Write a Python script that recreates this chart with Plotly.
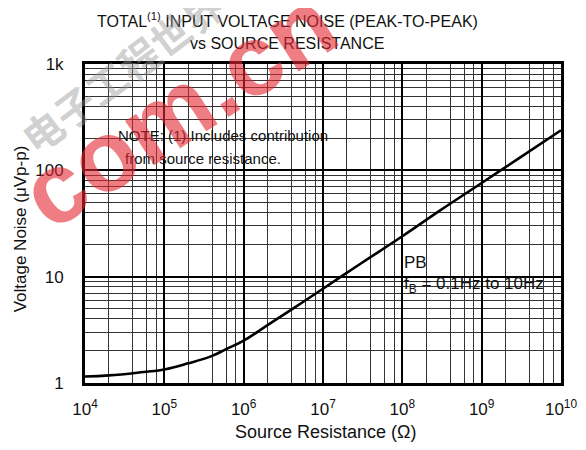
import plotly.graph_objects as go

# source resistance (ohm) and total p-p voltage noise (uV)
resistance = [1e4, 2e4, 5e4, 1e5, 2e5, 4e5, 6e5, 1e6, 2e6, 4e6, 1e7, 3e7, 1e8, 3e8, 1e9, 3e9, 1e10]
noise_uv = [1.15, 1.18, 1.26, 1.34, 1.53, 1.8, 2.08, 2.5, 3.5, 4.9, 7.7, 13.3, 24, 42, 76, 131, 238]

x_ticks = [1e4, 1e5, 1e6, 1e7, 1e8, 1e9, 1e10]
x_labels = ["10<sup>%d</sup>" % p for p in range(4, 11)]
y_ticks = [1, 10, 100, 1000]
y_labels = ["1", "10", "100", "1k"]

FONT = "Liberation Sans, Arial, sans-serif"
INK = "#111111"

# the page puts the figure 8px in from the top left corner
OFF = 8
W, H = 570, 434
# plot area in screen pixels
L, R, T, B = 85, 556, 64, 383


def px(x):
    return (x - L) / (R - L)


def py(y):
    return (B - y) / (B - T)


x_minor = [m * 10 ** p for p in range(4, 10) for m in (2, 4, 6, 8)]
y_minor = [m * 10 ** p for p in range(0, 3) for m in range(2, 10)]

fig = go.Figure()
fig.add_trace(go.Scatter(
    x=resistance, y=noise_uv, mode="lines",
    line=dict(color="black", width=2.6, shape="spline", smoothing=1.2),
    hoverinfo="skip", showlegend=False,
))

fig.update_layout(
    width=W, height=H,
    margin=dict(l=L - OFF, r=W + OFF - R - 5, t=T - OFF, b=H + OFF - B),
    paper_bgcolor="white", plot_bgcolor="white",
    font=dict(family=FONT, size=16, color=INK),
    showlegend=False,
)

fig.update_xaxes(
    type="log", range=[4, 10],
    tickmode="array", tickvals=x_ticks, ticktext=x_labels,
    ticks="", ticklabelstandoff=9, tickfont=dict(size=17),
    showgrid=True, gridcolor="black", gridwidth=2,
    minor=dict(tickmode="array", tickvals=x_minor, showgrid=True,
               gridcolor="#333333", gridwidth=1, ticks=""),
    showline=True, mirror=True, linecolor="black", linewidth=3,
    zeroline=False, automargin=False,
)
fig.update_yaxes(
    type="log", range=[0, 3],
    tickmode="array", tickvals=y_ticks, ticktext=y_labels,
    ticks="", ticklabelstandoff=15, tickfont=dict(size=17),
    showgrid=True, gridcolor="black", gridwidth=2,
    minor=dict(tickmode="array", tickvals=y_minor, showgrid=True,
               gridcolor="#333333", gridwidth=1, ticks=""),
    showline=True, mirror=True, linecolor="black", linewidth=3,
    zeroline=False, automargin=False,
)

# white label boxes over the grid
for x0, y0, x1, y1 in [(109, 120, 335, 171), (392, 245, 556, 301)]:
    fig.add_shape(type="rect", xref="paper", yref="paper",
                  x0=px(x0), x1=px(x1), y0=py(y1), y1=py(y0),
                  fillcolor="white", line=dict(width=0), layer="between")

notes = [
    (116, 135, "NOTE: (1) Includes contribution", 15),
    (123, 158, "from source resistance.", 15),
    (399, 262, "PB", 17),
    (399, 285, "f<sub>B</sub> = 0.1Hz to 10Hz", 17),
]
for x, y, txt, size in notes:
    fig.add_annotation(xref="paper", yref="paper", x=px(x), y=py(y),
                       xanchor="left", yanchor="middle", showarrow=False,
                       text=txt, font=dict(size=size, color=INK))

# titles
fig.add_annotation(xref="paper", yref="paper", x=px(285), y=py(20),
                   xanchor="center", yanchor="middle", showarrow=False,
                   text="TOTAL<sup>(1)</sup> INPUT VOLTAGE NOISE (PEAK-TO-PEAK)",
                   font=dict(size=16, color=INK))
fig.add_annotation(xref="paper", yref="paper", x=px(285), y=py(43),
                   xanchor="center", yanchor="middle", showarrow=False,
                   text="vs SOURCE RESISTANCE", font=dict(size=16, color=INK))
fig.add_annotation(xref="paper", yref="paper", x=px(323), y=py(432),
                   xanchor="center", yanchor="middle", showarrow=False,
                   text="Source Resistance (Ω)", font=dict(size=18, color=INK))
fig.add_annotation(xref="paper", yref="paper", x=px(22), y=py(229),
                   xanchor="center", yanchor="middle", showarrow=False,
                   textangle=-90, text="Voltage Noise (μVp-p)",
                   font=dict(size=17, color=INK))

# watermark
fig.add_annotation(xref="paper", yref="paper", x=px(177), y=py(108),
                   xanchor="center", yanchor="middle",
                   showarrow=False, textangle=-33, text="<b>com.cn</b>",
                   font=dict(size=100, color="rgba(228,40,50,0.6)", family=FONT))
fig.add_annotation(xref="paper", yref="paper", x=px(122), y=py(70),
                   xanchor="center", yanchor="middle",
                   showarrow=False, textangle=-37, text="<b>电子工程世界</b>",
                   font=dict(size=40, color="rgba(150,150,150,0.45)",
                             family="Noto Sans CJK SC"))

fig.write_html("out.html")
